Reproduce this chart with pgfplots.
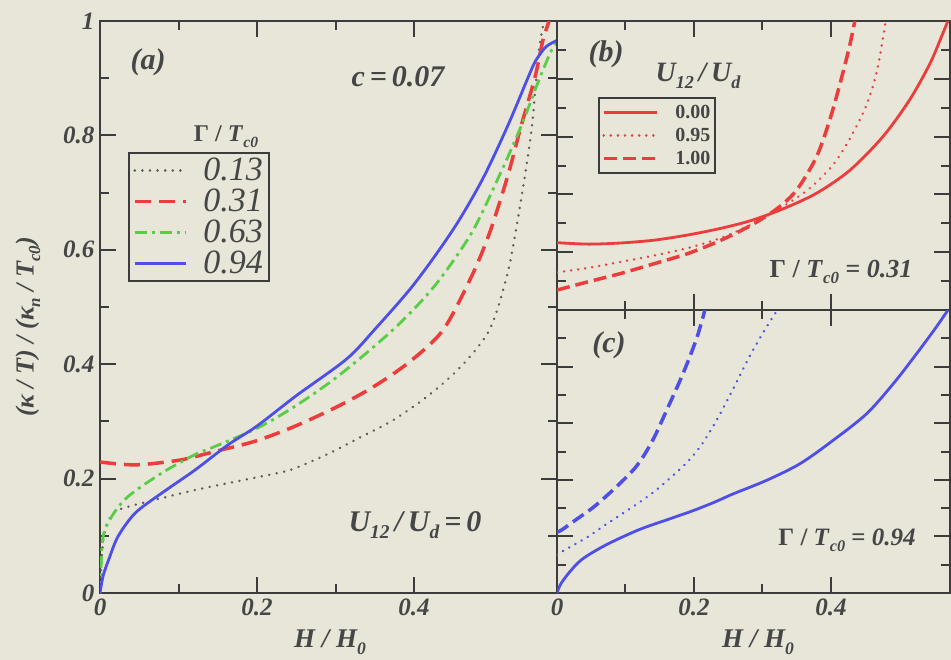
\documentclass[border=0pt]{standalone}
\usepackage{fontspec}
\setmainfont{Liberation Serif}
\usepackage{graphicx}
\usepackage{pgfplots}
\pgfplotsset{compat=1.18}

\definecolor{bgc}{RGB}{231,230,216}
\definecolor{myred}{RGB}{236,60,60}
\definecolor{myblue}{RGB}{78,78,232}
\definecolor{mygreen}{RGB}{88,205,70}
\definecolor{mygray}{RGB}{90,90,90}
\definecolor{axc}{RGB}{60,60,60}
\definecolor{txt}{RGB}{70,70,70}

\newcommand{\fs}[1]{\fontsize{#1bp}{#1bp}\selectfont}
\newcommand{\sub}[1]{\raisebox{-0.55ex}{\scalebox{0.65}{#1}}}

\pgfplotsset{
  panel/.style={
    scale only axis, xmin=0, ymin=0, ymax=1,
    axis line style={draw=axc, line width=2.5bp},
    xtick={0,0.2,0.4}, ytick={0,0.2,0.4,0.6,0.8,1},
    minor x tick num=1, minor y tick num=1,
    major tick length=16bp, minor tick length=9bp,
    every tick/.append style={draw=axc, line width=2bp},
    tick label style={font=\fs{25}\bfseries\itshape, text=txt},
    xticklabel style={yshift=-2bp},
    yticklabel style={xshift=-2bp},
  },
  dotst/.style={line width=2.6bp, dash pattern=on 0.1bp off 7.5bp, line cap=round},
  dotsm/.style={line width=2.6bp, dash pattern=on 0.1bp off 7bp, line cap=round},
}

\begin{document}
\begin{tikzpicture}
\useasboundingbox (0,0) rectangle (951bp,-660bp);
\fill[bgc] (0,0) rectangle (951bp,-660bp);

% ---------------- panel (a)
\begin{axis}[panel, at={(100bp,-593bp)}, anchor=south west,
  width=457bp, height=572bp, xmax=0.582,
  xticklabels={0,0.2,0.4}, yticklabels={0,0.2,0.4,0.6,0.8,1},
  legend cell align=left,
  legend image code/.code={\draw[#1] (0bp,0bp) -- (51bp,0bp);},
  legend style={at={(0.061,0.771)}, anchor=north west, draw=axc, line width=2.2bp,
    fill=none, font=\fs{34}\itshape, text=txt, inner xsep=4bp, inner ysep=2bp,
    row sep=0bp, column sep=14bp,
    nodes={inner sep=2bp, text height=23bp, text depth=4bp}},
]
\addplot[mygray, dotst, smooth] coordinates {
(0,0) (0.002,0.06) (0.005,0.1) (0.01,0.125) (0.019,0.142) (0.036,0.151)
(0.079,0.166) (0.121,0.18) (0.163,0.192) (0.206,0.204) (0.244,0.216)
(0.29,0.243) (0.327,0.269) (0.373,0.302) (0.418,0.345) (0.459,0.395)
(0.496,0.46) (0.518,0.553) (0.529,0.629) (0.541,0.728) (0.55,0.815)
(0.555,0.891) (0.559,0.949) (0.564,0.99) (0.566,1.0)};
\addlegendentry{0.13}
\addplot[myred, line width=3.5bp, dash pattern=on 16bp off 8bp, smooth] coordinates {
(0,0.229) (0.045,0.224) (0.1,0.232) (0.134,0.243) (0.154,0.25) (0.199,0.266)
(0.249,0.292) (0.304,0.327) (0.35,0.362) (0.395,0.405) (0.437,0.46)
(0.473,0.553) (0.496,0.629) (0.519,0.728) (0.536,0.815) (0.554,0.902)
(0.564,0.966) (0.572,1.0)};
\addlegendentry{0.31}
\addplot[mygreen, line width=2.8bp, dash pattern=on 12bp off 5bp on 3bp off 5bp, smooth] coordinates {
(0,0) (0.001,0.035) (0.004,0.099) (0.015,0.134) (0.036,0.169) (0.079,0.21)
(0.121,0.242) (0.146,0.256) (0.2,0.288) (0.249,0.327) (0.304,0.38)
(0.373,0.46) (0.425,0.535) (0.473,0.629) (0.51,0.734) (0.536,0.815)
(0.559,0.897) (0.575,0.949) (0.582,0.963)};
\addlegendentry{0.63}
\addplot[myblue, line width=2.8bp, smooth] coordinates {
(0,0) (0.004,0.03) (0.011,0.058) (0.023,0.099) (0.045,0.14) (0.079,0.175)
(0.121,0.215) (0.163,0.259) (0.2,0.292) (0.25,0.345) (0.314,0.409)
(0.35,0.461) (0.40,0.54) (0.45,0.636) (0.487,0.723) (0.519,0.816)
(0.546,0.904) (0.555,0.931) (0.568,0.955) (0.582,0.966)};
\addlegendentry{0.94}
\end{axis}

% ---------------- panel (b)
\begin{axis}[panel, at={(557bp,-310bp)}, anchor=south west,
  width=393bp, height=289bp, xmax=0.574,
  xticklabels={}, yticklabels={},
  legend cell align=left,
  legend image code/.code={\draw[#1] (0bp,0bp) -- (53bp,0bp);},
  legend style={at={(0.104,0.737)}, anchor=north west, draw=axc, line width=2bp,
    fill=none, font=\fs{20}\bfseries, text=txt, inner xsep=3bp, inner ysep=3bp,
    row sep=0bp, column sep=15bp,
    nodes={inner sep=2bp, text height=15bp, text depth=4bp}},
]
\addplot[myred, line width=2.8bp, smooth] coordinates {
(0,0.233) (0.046,0.228) (0.094,0.232) (0.143,0.242) (0.192,0.26) (0.24,0.283)
(0.284,0.31) (0.33,0.35) (0.379,0.404) (0.428,0.484) (0.476,0.6)
(0.515,0.727) (0.545,0.854) (0.564,0.96) (0.571,1)};
\addlegendentry{0.00}
\addplot[myred, dotsm, smooth] coordinates {
(0,0.13) (0.046,0.146) (0.094,0.167) (0.143,0.189) (0.192,0.215) (0.24,0.25)
(0.284,0.296) (0.33,0.358) (0.369,0.421) (0.403,0.502) (0.428,0.594)
(0.452,0.709) (0.467,0.824) (0.476,0.94) (0.48,1)};
\addlegendentry{0.95}
\addplot[myred, line width=3.5bp, dash pattern=on 13bp off 6bp, smooth] coordinates {
(0,0.069) (0.046,0.098) (0.094,0.127) (0.143,0.161) (0.192,0.196) (0.24,0.242)
(0.284,0.294) (0.321,0.35) (0.35,0.415) (0.379,0.53) (0.398,0.655)
(0.413,0.78) (0.427,0.91) (0.435,1)};
\addlegendentry{1.00}
\end{axis}

% ---------------- panel (c)
\begin{axis}[panel, at={(557bp,-593bp)}, anchor=south west,
  width=393bp, height=283bp, xmax=0.574,
  xticklabels={0,0.2,0.4}, yticklabels={},
]
\addplot[myblue, line width=2.8bp, smooth] coordinates {
(0,0) (0.005,0.03) (0.017,0.07) (0.036,0.118) (0.07,0.168) (0.119,0.223)
(0.167,0.264) (0.201,0.293) (0.231,0.322) (0.257,0.35) (0.306,0.398)
(0.355,0.457) (0.403,0.539) (0.452,0.633) (0.491,0.739) (0.525,0.845)
(0.554,0.94) (0.571,1)};
\addplot[myblue, dotsm, smooth] coordinates {
(0,0.135) (0.01,0.15) (0.026,0.172) (0.046,0.2) (0.07,0.24) (0.094,0.278)
(0.119,0.318) (0.143,0.36) (0.167,0.41) (0.19,0.462) (0.21,0.52) (0.233,0.61)
(0.257,0.72) (0.281,0.835) (0.306,0.94) (0.322,1)};
\addplot[myblue, line width=3.5bp, dash pattern=on 13bp off 6bp, smooth] coordinates {
(0,0.215) (0.007,0.223) (0.026,0.256) (0.051,0.299) (0.07,0.338) (0.094,0.392)
(0.114,0.442) (0.128,0.49) (0.143,0.555) (0.16,0.645) (0.184,0.775) (0.204,0.9)
(0.216,1)};
\end{axis}

% ---------------- texts
\begin{scope}[every node/.style={text=txt, inner sep=0pt}]
\node[rotate=90, font=\fs{26}\bfseries\itshape] at (28bp,-327bp)
  {(κ / T) / (κ\sub{n} / T\sub{c0})};
\node[font=\fs{27}\bfseries\itshape] at (330bp,-642bp) {H / H\sub{0}};
\node[font=\fs{27}\bfseries\itshape] at (758bp,-642bp) {H / H\sub{0}};
\node[font=\fs{30}\bfseries\itshape] at (148bp,-62bp) {(a)};
\node[font=\fs{30}\bfseries\itshape] at (398bp,-77bp) {c\,=\,0.07};
\node[font=\fs{24}\bfseries] at (226bp,-137bp) {Γ / \textit{T}\sub{\textit{c0}}};
\node[font=\fs{30}\bfseries\itshape] at (415bp,-525bp) {U\sub{12}\,/\,U\sub{d}\,=\,0};
\node[font=\fs{30}\bfseries\itshape] at (606bp,-54bp) {(b)};
\node[font=\fs{28}\bfseries\itshape] at (698bp,-76bp) {U\sub{12}\,/\,U\sub{d}};
\node[font=\fs{26}\bfseries] at (841bp,-272bp) {Γ / \textit{T}\sub{\textit{c0}} = \textit{0.31}};
\node[font=\fs{30}\bfseries\itshape] at (609bp,-345bp) {(c)};
\node[font=\fs{25}\bfseries] at (847bp,-540bp) {Γ / \textit{T}\sub{\textit{c0}} = \textit{0.94}};
\end{scope}
\end{tikzpicture}
\end{document}
